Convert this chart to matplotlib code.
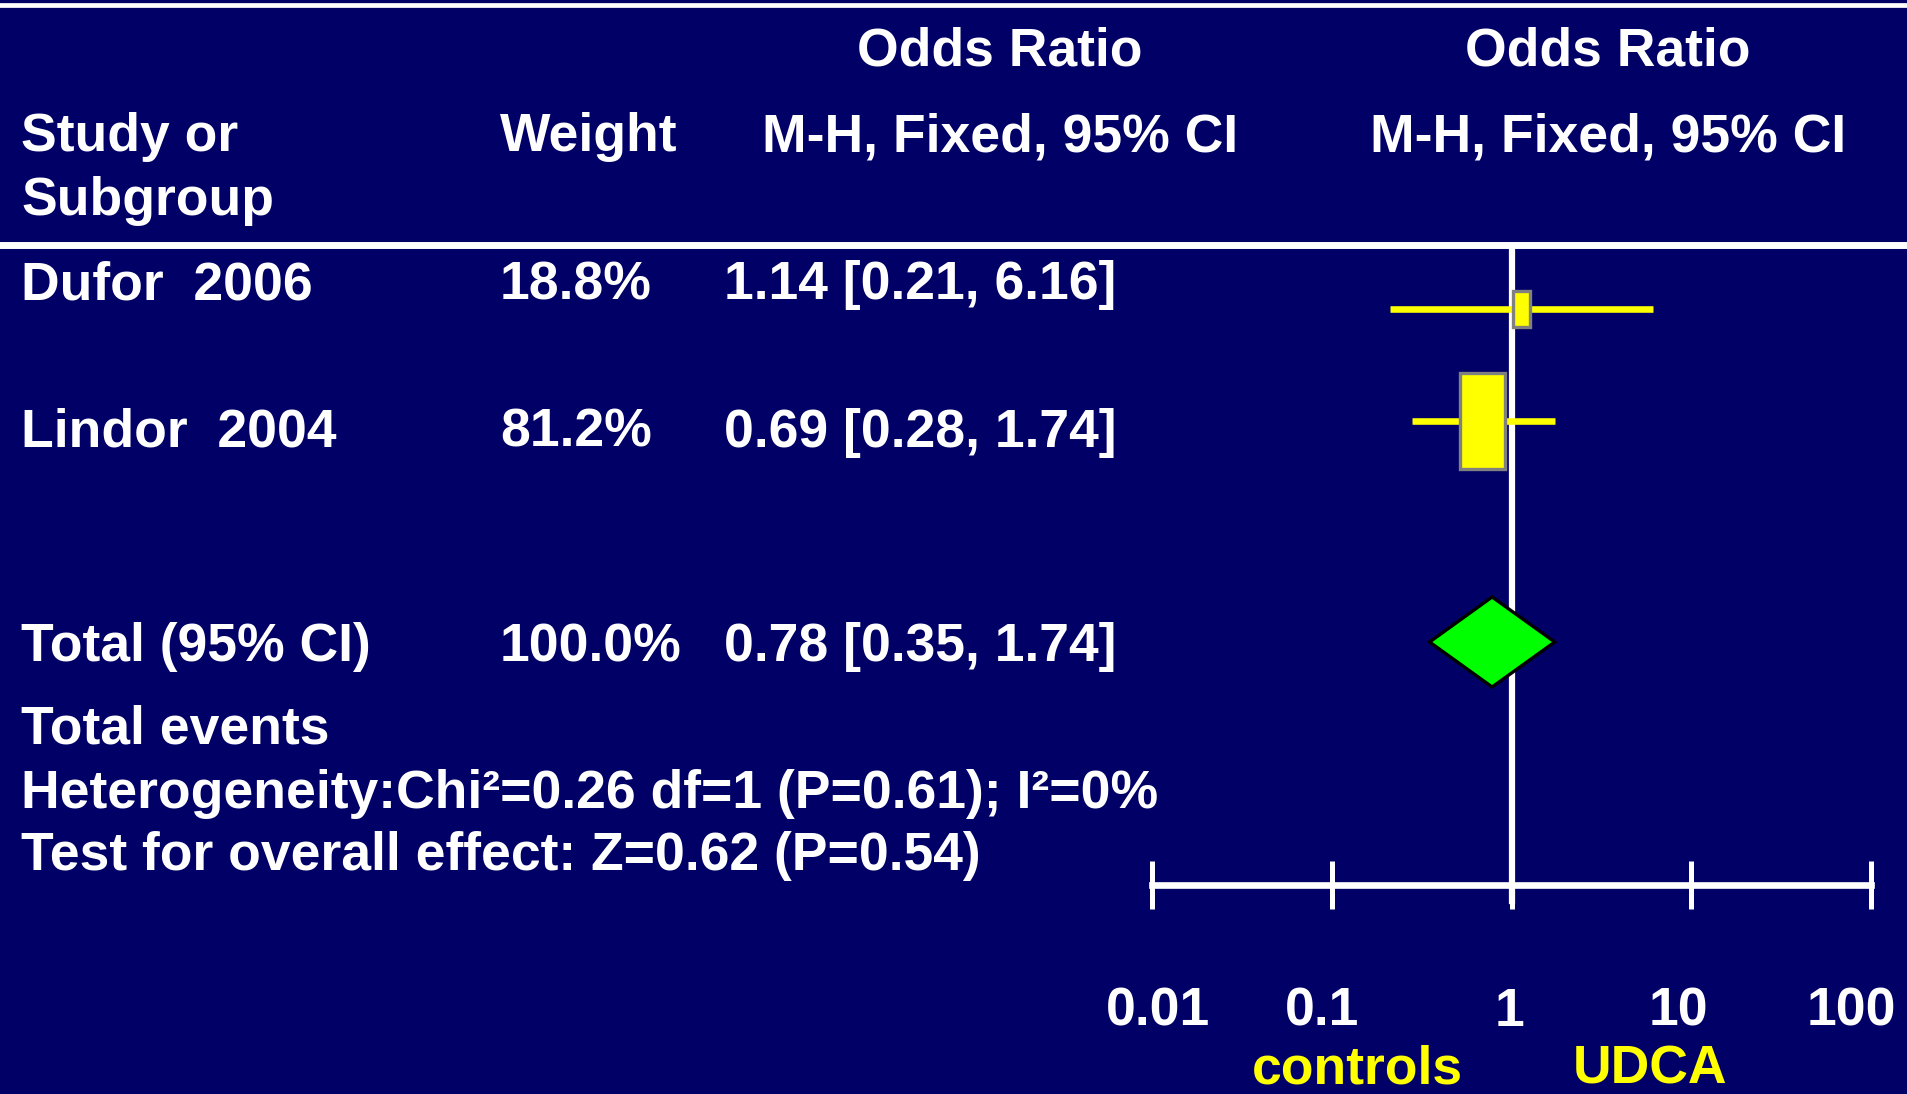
import matplotlib.pyplot as plt
import matplotlib.transforms as mtransforms
from matplotlib.patches import Rectangle, Polygon

studies = ['Dufor  2006', 'Lindor  2004']
weights = [18.8, 81.2]
odds = [1.14, 0.69]
ci_low = [0.21, 0.28]
ci_high = [6.16, 1.74]

total_label = 'Total (95% CI)'
total_weight = 100.0
total_or = 0.78
total_low = 0.35
total_high = 1.74

ticks = [0.01, 0.1, 1, 10, 100]
tick_labels = ['0.01', '0.1', '1', '10', '100']

NAVY = '#000066'
W, H = 1907, 1094
plt.rcParams['font.family'] = ['Liberation Sans', 'DejaVu Sans']
plt.rcParams['font.weight'] = 'bold'
FS = 38.5

fig = plt.figure(figsize=(W / 100, H / 100), dpi=100, facecolor=NAVY)


def put(x, y, s, color='white', ha='left'):
    # x, y in pixels from top-left, y is the baseline
    fig.text(x / W, 1 - y / H, s, color=color, fontsize=FS, fontweight='bold',
             ha=ha, va='baseline')


# header
put(1000, 66, 'Odds Ratio', ha='center')
put(1608, 66, 'Odds Ratio', ha='center')
put(21, 151, 'Study or')
put(21, 215, 'Subgroup')
put(500, 151, 'Weight')
put(1000, 151, 'M-H, Fixed, 95% CI', ha='center')
put(1608, 151, 'M-H, Fixed, 95% CI', ha='center')

# study rows
text_base = [299, 447]
for name, w, o, lo, hi, yb in zip(studies, weights, odds, ci_low, ci_high, text_base):
    put(21, yb, name)
    put(500, yb, f'{w:.1f}%')
    put(724, yb, f'{o:.2f} [{lo:.2f}, {hi:.2f}]')

put(21, 661, total_label)
put(500, 661, f'{total_weight:.1f}%')
put(724, 661, f'{total_or:.2f} [{total_low:.2f}, {total_high:.2f}]')
put(21, 744, 'Total events')
put(21, 808, 'Heterogeneity:Chi²=0.26 df=1 (P=0.61); I²=0%')
put(21, 870, 'Test for overall effect: Z=0.62 (P=0.54)')

put(1357, 1084, 'controls', color='yellow', ha='center')
put(1650, 1084, 'UDCA', color='yellow', ha='center')

# horizontal rules across the slide
bg = fig.add_axes([0, 0, 1, 1], facecolor='none')
bg.set_xlim(0, W)
bg.set_ylim(H, 0)
bg.axis('off')
bg.axhline(5, color='white', lw=3.4)
bg.axhline(244.5, color='white', lw=5)

# forest plot axes: log x, y in pixel rows
x0, x1 = 1152, 1871
ax = fig.add_axes([x0 / W, 0, (x1 - x0) / W, 1], facecolor='none')
ax.set_xscale('log')
ax.set_xlim(ticks[0], ticks[-1])
ax.set_ylim(H, 0)
for side in ['top', 'left', 'right']:
    ax.spines[side].set_visible(False)
ax.spines['bottom'].set_position(('data', 885))
ax.spines['bottom'].set_color('white')
ax.spines['bottom'].set_linewidth(4.8)
ax.set_yticks([])
ax.set_xticks(ticks)
ax.set_xticklabels(tick_labels)
ax.minorticks_off()
ax.tick_params(axis='x', direction='inout', length=34.5, width=3.6, color='white',
               labelcolor='white', labelsize=FS, pad=56)
# the slide's labels sit a little off their ticks
label_shift = [6, -10, -2, -13, -20]
for lab, dx in zip(ax.get_xticklabels(), label_shift):
    lab.set_fontweight('bold')
    lab.set_transform(lab.get_transform() +
                      mtransforms.ScaledTranslation(dx / 100, 0, fig.dpi_scale_trans))

ax.plot([1, 1], [248, 901], color='white', lw=4.5, zorder=2, clip_on=False)

px_per_dec = (x1 - x0) / 4.0
row_y = [309, 421]
for w, o, lo, hi, y in zip(weights, odds, ci_low, ci_high, row_y):
    ax.plot([lo, hi], [y, y], color='yellow', lw=4.75, zorder=3, solid_capstyle='butt')
    bh = 95.6 * (w / 81.2) ** 0.675
    bw = 0.47 * bh
    left = o * 10 ** (-bw / 2 / px_per_dec)
    right = o * 10 ** (bw / 2 / px_per_dec)
    ax.add_patch(Rectangle((left, y - bh / 2), right - left, bh, facecolor='yellow',
                           edgecolor='#808080', lw=2.4, zorder=4))

yd = 642
ax.add_patch(Polygon([(total_low, yd), (total_or, yd - 45), (total_high, yd), (total_or, yd + 45)],
                     closed=True, facecolor='#00FF00', edgecolor='black', lw=2.4, zorder=4))

fig.savefig('out.png', dpi=100, facecolor=NAVY)
